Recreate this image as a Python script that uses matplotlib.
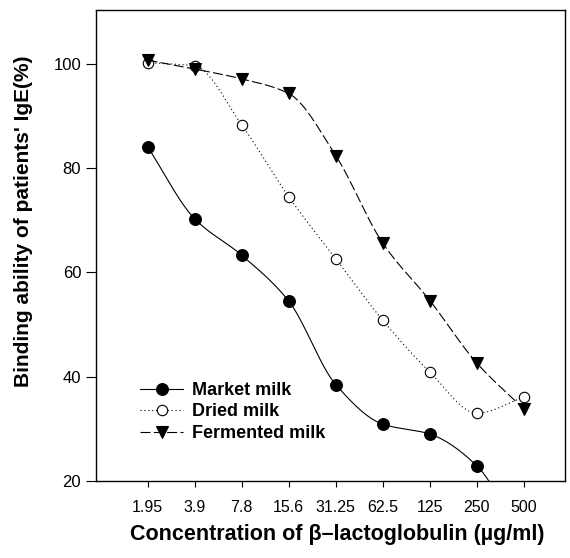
"""Binding ability of patients' IgE vs beta-lactoglobulin concentration."""

import numpy as np
import matplotlib
matplotlib.use("Agg")
import matplotlib.pyplot as plt

plt.rcParams["font.family"] = ["Liberation Sans", "DejaVu Sans"]

CONC_LABELS = ["1.95", "3.9", "7.8", "15.6", "31.25", "62.5", "125", "250", "500"]
MARKET = [84.1, 70.3, 63.3, 54.5, 38.5, 30.9, 29.0, 22.9, 8.0]
DRIED = [100.2, 99.6, 88.3, 74.5, 62.6, 50.8, 40.9, 33.0, 36.1]
FERMENTED = [100.7, 99.0, 97.1, 94.3, 82.4, 65.6, 54.6, 42.6, 33.8]


def pchip(x, y, n=40):
    # monotone cubic through the points (no overshoot), for smooth curves
    x = np.asarray(x, float)
    y = np.asarray(y, float)
    h = np.diff(x)
    d = np.diff(y) / h
    m = np.zeros_like(y)
    for i in range(1, len(y) - 1):
        if d[i - 1] * d[i] > 0:
            w1 = 2 * h[i] + h[i - 1]
            w2 = h[i] + 2 * h[i - 1]
            m[i] = (w1 + w2) / (w1 / d[i - 1] + w2 / d[i])
    m[0] = d[0]
    m[-1] = d[-1]
    xs, ys = [], []
    for i in range(len(x) - 1):
        t = np.linspace(0, 1, n, endpoint=(i == len(x) - 2))
        h00 = 2 * t**3 - 3 * t**2 + 1
        h10 = t**3 - 2 * t**2 + t
        h01 = -2 * t**3 + 3 * t**2
        h11 = t**3 - t**2
        xs.append(x[i] + t * h[i])
        ys.append(h00 * y[i] + h10 * h[i] * m[i] + h01 * y[i + 1] + h11 * h[i] * m[i + 1])
    return np.concatenate(xs), np.concatenate(ys)


def main():
    fig = plt.figure(figsize=(5.7, 5.58), dpi=100)
    ax = fig.add_axes([0.168, 0.138, 0.823, 0.844])
    x = np.arange(len(CONC_LABELS))

    series = [
        ("Market milk", MARKET, "-", dict(marker="o", mfc="black", ms=8.5)),
        ("Dried milk", DRIED, (0, (1, 2.5)), dict(marker="o", mfc="white", ms=7.5)),
        ("Fermented milk", FERMENTED, (0, (9, 3)), dict(marker="v", mfc="black", ms=9)),
    ]
    for label, vals, ls, mk in series:
        sx, sy = pchip(x, vals)
        ax.plot(sx, sy, color="black", linestyle=ls, linewidth=0.8)
        ax.plot(x, vals, linestyle="none", color="black", mec="black",
                mew=0.8, **mk)
        ax.plot([], [], color="black", linestyle=ls, linewidth=0.8,
                mec="black", mew=0.8, label=label, **mk)

    ax.set_xlim(-1.1, 8.87)
    ax.set_ylim(20, 110.3)
    ax.set_xticks(x)
    ax.set_xticklabels(CONC_LABELS)
    ax.set_yticks([20, 40, 60, 80, 100])
    ax.tick_params(axis="x", direction="out", length=4, pad=9.5, labelsize=11.5)
    ax.tick_params(axis="y", direction="out", length=7, pad=3.5, labelsize=12)
    for sp in ax.spines.values():
        sp.set_linewidth(1.0)

    ax.set_xlabel("Concentration of β–lactoglobulin (µg/ml)", fontsize=15.5,
                  fontweight="bold")
    ax.set_ylabel("Binding ability of patients' IgE(%)", fontsize=15,
                  fontweight="bold")
    ax.xaxis.set_label_coords(0.514, -0.091)
    ax.yaxis.set_label_coords(-0.134, 0.552)

    ax.legend(loc="lower left", bbox_to_anchor=(0.094, 0.083), frameon=False,
              prop={"weight": "bold", "size": 13}, handlelength=2.4,
              handletextpad=0.5, labelspacing=0.25, borderpad=0,
              borderaxespad=0)

    fig.savefig("out.png", dpi=100)


if __name__ == "__main__":
    main()
